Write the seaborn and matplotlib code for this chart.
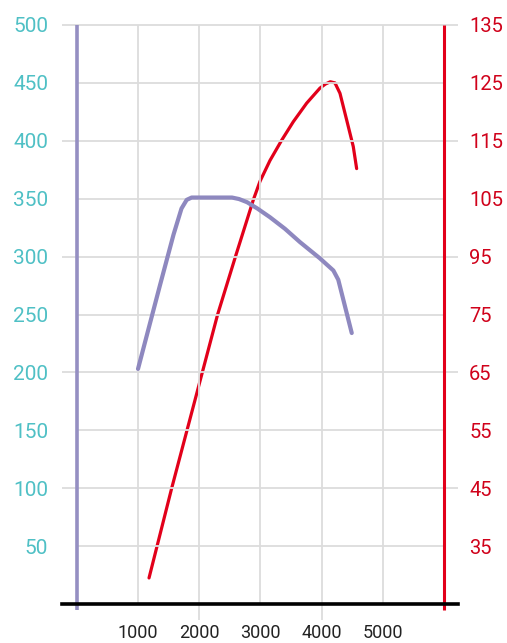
import matplotlib
matplotlib.use("Agg")
import matplotlib.pyplot as plt
import seaborn as sns
import pandas as pd

# ---- data ----
torque_rpm = [1000, 1360, 1580, 1710, 1795, 1876, 2535, 2650, 2780, 2950, 3155, 3400, 3645, 3970, 4190, 4270, 4490]
torque_nm = [203, 275.5, 319, 341.5, 349, 351, 351, 349.7, 347, 341.5, 334, 324, 312.5, 298.5, 288, 280, 234]

power_rpm = [1180, 1550, 1800, 2050, 2300, 2600, 2883, 2992, 3155, 3346, 3536, 3754, 3971, 4060, 4140, 4216, 4298, 4407, 4515, 4570]
power_kw = [39.5, 55, 65, 75, 85, 95.3, 104.8, 108.0, 111.6, 115.1, 118.3, 121.5, 124.1, 124.8, 125.2, 125.0, 123.2, 118.6, 114.0, 110.2]

x_ticks = [1000, 2000, 3000, 4000, 5000]
x_labels = ["1000", "2000", "3000", "4000", "5000"]
left_ticks = [50, 100, 150, 200, 250, 300, 350, 400, 450, 500]
left_labels = ["50", "100", "150", "200", "250", "300", "350", "400", "450", "500"]
right_ticks = [45, 55, 65, 75, 85, 95, 105, 115, 125, 135]
right_labels = ["35", "45", "55", "65", "75", "95", "105", "115", "125", "135"]

PURPLE = "#8e88bf"
PURPLE_SPINE = "#958fc2"
RED = "#e2001a"
RED_TXT = "#d0021b"
TEAL = "#4fc0c5"
GRID = "#dcdcdc"

sns.set_theme(style="white")
plt.rcParams["font.family"] = ["Roboto", "DejaVu Sans"]

fig = plt.figure(figsize=(5.07, 6.43), dpi=100)
ax = fig.add_axes([62 / 507, 39 / 643, 396 / 507, 579 / 643])
ax2 = ax.twinx()
ax.set_zorder(2)
ax2.set_zorder(1)
ax.patch.set_visible(False)

XMIN, XMAX = -241, 6225
ax.set_xlim(XMIN, XMAX)
ax.set_ylim(0, 500)
ax2.set_ylim(35, 135)

# grid lines (styling)
for v in left_ticks:
    if v % 100 == 0:
        ax.hlines(v, XMIN, XMAX, color=GRID, lw=1.3, zorder=1, clip_on=False)
    else:
        ax.hlines(v, 0, 6000, color=GRID, lw=1.3, zorder=1)
for xv in x_ticks:
    low = -13.8 if xv % 2000 == 0 else 0
    ax.vlines(xv, low, 500, color=GRID, lw=1.3, zorder=1, clip_on=False)

# axis lines at 0 and 6000
ax.vlines(0, -5.2, 500, color=PURPLE_SPINE, lw=2.6, zorder=2.5, clip_on=False)
ax.vlines(6000, -5.2, 500, color=RED, lw=2.2, zorder=2.5, clip_on=False)

df_t = pd.DataFrame({"rpm": torque_rpm, "nm": torque_nm})
df_p = pd.DataFrame({"rpm": power_rpm, "kw": power_kw})
sns.lineplot(data=df_t, x="rpm", y="nm", ax=ax, color=PURPLE, lw=3.0, zorder=3,
             solid_capstyle="round", solid_joinstyle="round")
sns.lineplot(data=df_p, x="rpm", y="kw", ax=ax2, color=RED, lw=2.3, zorder=1,
             solid_capstyle="round", solid_joinstyle="round")

ax.set_xlabel("")
ax.set_ylabel("")
ax2.set_ylabel("")
ax.set_xticks(x_ticks)
ax.set_xticklabels(x_labels, fontsize=13, color="#222222")
ax.set_yticks(left_ticks)
ax.set_yticklabels(left_labels, fontsize=15, color=TEAL)
ax2.set_yticks(right_ticks)
ax2.set_yticklabels(right_labels, fontsize=14.5, color=RED_TXT)
ax.tick_params(axis="x", length=0, pad=14.5)
ax.tick_params(axis="y", length=0, pad=10)
ax2.tick_params(axis="y", length=0, pad=8)

for s in ["left", "right", "top"]:
    ax.spines[s].set_visible(False)
for s in ax2.spines.values():
    s.set_visible(False)
ax.spines["bottom"].set_color("black")
ax.spines["bottom"].set_linewidth(2.6)
ax.spines["bottom"].set_zorder(4)
ax.grid(False)
ax2.grid(False)

fig.savefig("out.png", dpi=100)
